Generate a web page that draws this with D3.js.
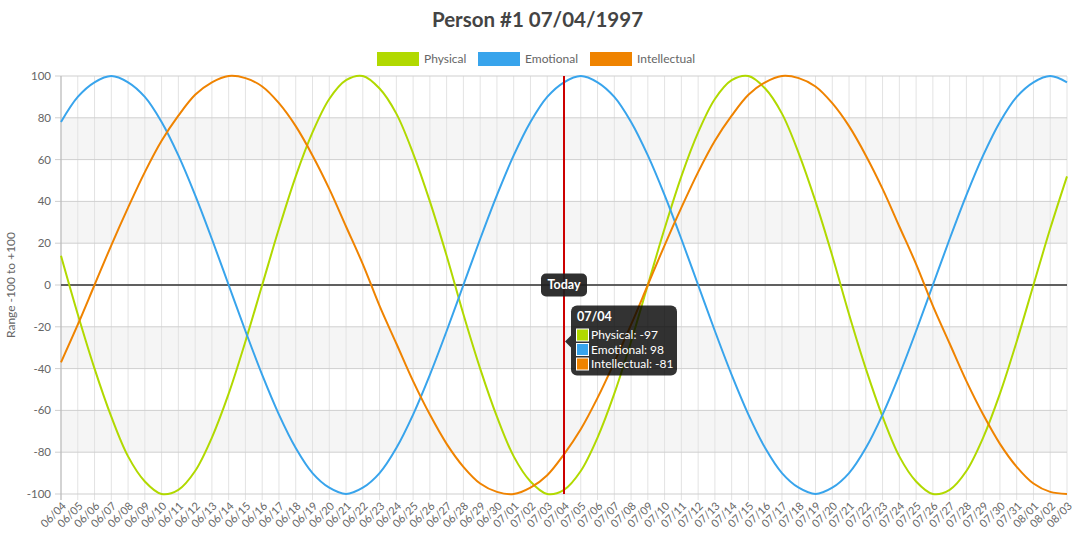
<!DOCTYPE html>
<html>
<head>
<meta charset="utf-8">
<script src="https://cdn.jsdelivr.net/npm/d3@7"></script>
<style>
    body { margin: 0; background: #fff; }
    svg { font-family: Lato, "Open Sans", sans-serif; }
</style>
</head>
<body>
<svg id="grafico" width="1075" height="537"></svg>
<script>
//etichette dei giorni sull'asse x
var giorni = ['06/04','06/05','06/06','06/07','06/08','06/09','06/10','06/11','06/12','06/13','06/14','06/15','06/16','06/17','06/18','06/19','06/20','06/21','06/22','06/23','06/24','06/25','06/26','06/27','06/28','06/29','06/30',
    '07/01','07/02','07/03','07/04','07/05','07/06','07/07','07/08','07/09','07/10','07/11','07/12','07/13','07/14','07/15','07/16','07/17','07/18','07/19','07/20','07/21','07/22','07/23','07/24','07/25','07/26','07/27','07/28','07/29','07/30','07/31',
    '08/01','08/02','08/03'];

//valori, uno per giorno
var fisico = [14,-14,-40,-63,-82,-94,-100,-98,-89,-73,-52,-27,0,27,52,73,89,98,100,94,82,63,40,14,-14,-40,-63,-82,-94,-100,-98,-89,-73,-52,-27,0,27,52,73,89,98,100,94,82,63,40,14,-14,-40,-63,-82,-94,-100,-98,-89,-73,-52,-27,0,27,52];
var emotivo = [78,90,97,100,97,90,78,62,43,22,0,-22,-43,-62,-78,-90,-97,-100,-97,-90,-78,-62,-43,-22,0,22,43,62,78,90,97,100,97,90,78,62,43,22,0,-22,-43,-62,-78,-90,-97,-100,-97,-90,-78,-62,-43,-22,0,22,43,62,78,90,97,100,97];
var intellettuale = [-37,-19,0,19,37,54,69,81,91,97,100,99,95,87,76,62,46,28,10,-10,-28,-46,-62,-76,-87,-95,-99,-100,-97,-91,-81,-69,-54,-37,-19,0,19,37,54,69,81,91,97,100,99,95,87,76,62,46,28,10,-10,-28,-46,-62,-76,-87,-95,-99,-100];

var nomiSerie = ['Physical', 'Emotional', 'Intellectual'];
var coloriSerie = ['#b1d900', '#38a4ec', '#ef8300'];
var tickY = [-100, -80, -60, -40, -20, 0, 20, 40, 60, 80, 100];
var fasce = [[60, 80], [20, 40], [-40, -20], [-80, -60]];

var titolo = 'Person #1 07/04/1997';
var etichettaY = 'Range -100 to +100';
var oggi = '07/04';
var righeTooltip = ['Physical: -97', 'Emotional: 98', 'Intellectual: -81'];

var svg = d3.select('#grafico');

var x = d3.scalePoint().domain(giorni).range([61, 1067]);
var y = d3.scaleLinear().domain([-100, 100]).range([494, 76]);

//fasce grigie alternate
svg.selectAll('.fascia')
    .data(fasce)
    .enter().append('rect')
    .attr('class', 'fascia')
    .attr('x', 61)
    .attr('width', 1067 - 61)
    .attr('y', function(d) { return y(d[1]); })
    .attr('height', function(d) { return y(d[0]) - y(d[1]); })
    .style('fill', '#f5f5f5');

//griglia verticale, una linea per giorno
svg.selectAll('.grigliaX')
    .data(giorni)
    .enter().append('line')
    .attr('x1', function(d) { return x(d); })
    .attr('x2', function(d) { return x(d); })
    .attr('y1', 76)
    .attr('y2', 500)
    .style('stroke', '#e3e3e3')
    .style('stroke-width', 1);

//griglia orizzontale
svg.selectAll('.grigliaY')
    .data(tickY)
    .enter().append('line')
    .attr('x1', 55)
    .attr('x2', 1067)
    .attr('y1', function(d) { return y(d); })
    .attr('y2', function(d) { return y(d); })
    .style('stroke', '#cfcfcf')
    .style('stroke-width', 1);

//asse y
svg.append('line')
    .attr('x1', 61).attr('x2', 61)
    .attr('y1', 76).attr('y2', 500)
    .style('stroke', '#b5b5b5');

svg.selectAll('.tickY')
    .data(tickY)
    .enter().append('text')
    .text(function(d) { return d; })
    .attr('x', 51)
    .attr('y', function(d) { return y(d); })
    .attr('dy', '.35em')
    .style('text-anchor', 'end')
    .style('font-size', '11.5px')
    .style('fill', '#666');

svg.append('text')
    .text(etichettaY)
    .attr('transform', 'translate(15,' + y(0) + ') rotate(-90)')
    .style('text-anchor', 'middle')
    .style('font-size', '12px')
    .style('fill', '#666');

//etichette asse x ruotate
svg.selectAll('.tickX')
    .data(giorni)
    .enter().append('text')
    .text(function(d) { return d; })
    .attr('transform', function(d) { return 'translate(' + (x(d) + 3) + ',504) rotate(-45)'; })
    .attr('dy', '.35em')
    .style('text-anchor', 'end')
    .style('font-size', '11px')
    .style('fill', '#666');

//linea dello zero
svg.append('line')
    .attr('x1', 61).attr('x2', 1067)
    .attr('y1', y(0)).attr('y2', y(0))
    .style('stroke', '#333')
    .style('stroke-width', 1.6);

//curve delle tre serie
var valoriSerie = [fisico, emotivo, intellettuale];
var linea = d3.line()
    .x(function(d, i) { return x(giorni[i]); })
    .y(function(d) { return y(d); })
    .curve(d3.curveCatmullRom);

svg.selectAll('.serie')
    .data(valoriSerie)
    .enter().append('path')
    .attr('class', 'serie')
    .attr('d', linea)
    .style('fill', 'none')
    .style('stroke', function(d, i) { return coloriSerie[i]; })
    .style('stroke-width', 2);

//linea rossa di oggi
svg.append('line')
    .attr('x1', x(oggi)).attr('x2', x(oggi))
    .attr('y1', 76).attr('y2', 494)
    .style('stroke', '#cc0000')
    .style('stroke-width', 2);

svg.append('rect')
    .attr('x', x(oggi) - 23).attr('y', y(0) - 11.5)
    .attr('width', 46).attr('height', 23)
    .attr('rx', 5).attr('ry', 5)
    .style('fill', 'rgba(30,30,30,0.92)');

svg.append('text')
    .text('Today')
    .attr('x', x(oggi)).attr('y', y(0))
    .attr('dy', '.35em')
    .style('text-anchor', 'middle')
    .style('font-size', '12.5px')
    .style('font-weight', 'bold')
    .style('fill', '#fff');

//tooltip
var tx = x(oggi) + 7;
var ty = 305.5;
var tooltip = svg.append('g');

tooltip.append('path')
    .attr('d', 'M' + tx + ',' + (ty + 30) + ' L' + (tx - 6) + ',' + (ty + 36) + ' L' + tx + ',' + (ty + 42) + ' Z')
    .style('fill', 'rgba(0,0,0,0.8)');

tooltip.append('rect')
    .attr('x', tx).attr('y', ty)
    .attr('width', 106).attr('height', 70)
    .attr('rx', 6).attr('ry', 6)
    .style('fill', 'rgba(0,0,0,0.8)');

tooltip.append('text')
    .text(oggi)
    .attr('x', tx + 6).attr('y', ty + 11)
    .attr('dy', '.35em')
    .style('font-size', '12.5px')
    .style('font-weight', 'bold')
    .style('fill', '#fff');

tooltip.selectAll('.quadrato')
    .data(righeTooltip)
    .enter().append('rect')
    .attr('x', tx + 5.5)
    .attr('y', function(d, i) { return ty + 23.5 + i * 14.5; })
    .attr('width', 12).attr('height', 12)
    .style('fill', function(d, i) { return coloriSerie[i]; })
    .style('stroke', '#fff')
    .style('stroke-width', 1);

tooltip.selectAll('.riga')
    .data(righeTooltip)
    .enter().append('text')
    .text(function(d) { return d; })
    .attr('x', tx + 20)
    .attr('y', function(d, i) { return ty + 29.5 + i * 14.5; })
    .attr('dy', '.35em')
    .style('font-size', '12px')
    .style('fill', '#fff');

//titolo
svg.append('text')
    .text(titolo)
    .attr('x', 537.5).attr('y', 20)
    .attr('dy', '.35em')
    .style('text-anchor', 'middle')
    .style('font-size', '20.5px')
    .style('font-weight', 'bold')
    .style('fill', '#444');

//legenda
var legendaX = [377, 478, 590];
var legenda = svg.selectAll('.legenda')
    .data(nomiSerie)
    .enter().append('g')
    .attr('transform', function(d, i) { return 'translate(' + legendaX[i] + ',52)'; });

legenda.append('rect')
    .attr('width', 42).attr('height', 14)
    .style('fill', function(d, i) { return coloriSerie[i]; });

legenda.append('text')
    .text(function(d) { return d; })
    .attr('x', 47).attr('y', 7)
    .attr('dy', '.35em')
    .style('font-size', '12px')
    .style('fill', '#666');
</script>
</body>
</html>
